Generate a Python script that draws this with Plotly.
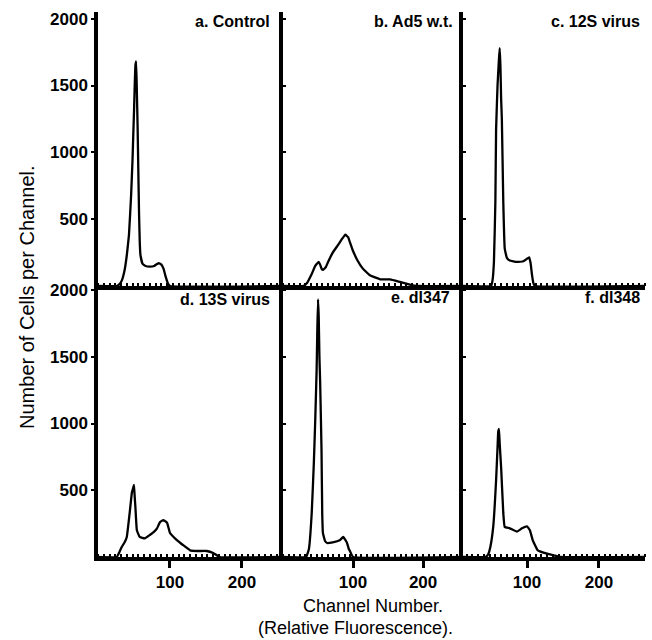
import plotly.graph_objects as go

# ---- data (channel number, cells per channel) ----
ch_a = [0, 26, 30, 33, 37, 40, 43, 46, 48, 49, 50, 51, 52, 53, 54, 55, 56, 57, 58, 59, 62, 66, 72, 78, 82, 85, 88, 91, 94, 97, 100, 257]
cnt_a = [0, 0, 15, 40, 120, 230, 380, 680, 950, 1130, 1300, 1500, 1650, 1680, 1450, 1200, 870, 550, 330, 230, 165, 150, 145, 150, 165, 170, 160, 130, 70, 20, 0, 0]

ch_b = [0, 29, 34, 41, 46, 49, 51, 53, 55, 57, 61, 64, 71, 79, 84, 89, 91, 93, 96, 99, 106, 114, 124, 139, 153, 167, 181, 191, 257]
cnt_b = [0, 0, 20, 90, 150, 170, 180, 160, 130, 120, 140, 175, 250, 310, 350, 385, 375, 365, 320, 275, 195, 130, 80, 50, 50, 30, 10, 0, 0]

ch_c = [11, 50, 52, 54, 56, 57, 59, 61, 62, 63, 64, 65, 67, 69, 72, 76, 86, 95, 99, 103, 105, 107, 109, 111, 264]
cnt_c = [0, 0, 40, 180, 630, 1170, 1500, 1700, 1780, 1650, 1400, 1250, 630, 280, 210, 190, 180, 185, 200, 215, 170, 80, 20, 0, 0]

ch_d = [0, 26, 30, 33, 37, 40, 44, 47, 49, 50, 51, 52, 54, 58, 65, 72, 78, 82, 86, 90, 93, 96, 100, 105, 110, 118, 128, 138, 151, 160, 169, 257]
cnt_d = [0, 0, 40, 75, 110, 150, 330, 480, 520, 540, 450, 370, 200, 150, 140, 165, 190, 215, 260, 275, 270, 255, 180, 150, 125, 90, 50, 45, 45, 30, 0, 0]

ch_e = [0, 33, 37, 41, 44, 46, 48, 49, 50, 51, 52, 53, 55, 56, 57, 60, 63, 71, 81, 86, 91, 94, 96, 100, 257]
cnt_e = [0, 0, 60, 330, 700, 1020, 1400, 1700, 1930, 1800, 1500, 1320, 800, 330, 180, 120, 105, 110, 125, 150, 110, 60, 40, 0, 0]

ch_f = [11, 42, 46, 49, 53, 57, 59, 60, 61, 62, 64, 67, 69, 76, 86, 93, 100, 104, 108, 115, 128, 139, 146, 264]
cnt_f = [0, 0, 20, 75, 225, 575, 820, 940, 960, 850, 670, 330, 225, 215, 190, 215, 230, 200, 125, 50, 25, 10, 0, 0]

panel_labels = ["a. Control", "b. Ad5 w.t.", "c. 12S virus", "d. 13S virus", "e. dl347", "f. dl348"]
y_tickvals = [500, 1000, 1500, 2000]
x_tickvals = [100, 200]
y_title = "Number of Cells per Channel."
x_title_1 = "Channel Number."
x_title_2 = "(Relative Fluorescence)."

series = [(ch_a, cnt_a), (ch_b, cnt_b), (ch_c, cnt_c), (ch_d, cnt_d), (ch_e, cnt_e), (ch_f, cnt_f)]

# ---- layout geometry ----
W, H = 652, 640
L, R, T, B = 98, 7, 10, 83
pw = W - L - R
ph = H - T - B

def px_x(p):
    return (p - L) / pw

def px_y(p):
    return (H - B - p) / ph

xdom = [[0, px_x(283)], [px_x(283), px_x(463)], [px_x(463), 1]]
ysplit = px_y(285)
ydom = [[ysplit, 1], [0, ysplit]]
xranges = [[0, 257], [0, 257], [11, 264]]
yranges = [[0, 2050], [0, 2030]]

FONT = "Liberation Sans, Arial, Helvetica, sans-serif"

fig = go.Figure()
layout = dict(
    width=W, height=H,
    margin=dict(l=L, r=R, t=T, b=B),
    paper_bgcolor="white", plot_bgcolor="white",
    showlegend=False,
    font=dict(family=FONT, color="black"),
)

for i, (xs, ys) in enumerate(series):
    row, col = divmod(i, 3)
    n = i + 1
    xa = "x" if n == 1 else f"x{n}"
    ya = "y" if n == 1 else f"y{n}"
    fig.add_trace(go.Scatter(x=xs, y=ys, mode="lines",
                             line=dict(color="black", width=2.3, shape="spline", smoothing=0.3),
                             xaxis=xa, yaxis=ya, hoverinfo="skip"))
    bottom = row == 1
    xkey = "xaxis" if n == 1 else f"xaxis{n}"
    ykey = "yaxis" if n == 1 else f"yaxis{n}"
    layout[xkey] = dict(
        domain=xdom[col], anchor=ya, range=xranges[col],
        showline=True, linewidth=4, linecolor="black",
        showgrid=False, zeroline=False,
        tickmode="array", tickvals=x_tickvals,
        ticks="outside" if bottom else "", ticklen=7, tickwidth=3, tickcolor="black",
        showticklabels=bottom,
        tickfont=dict(family=FONT, size=17, color="black", weight="bold"),
        minor=dict(ticks="inside", ticklen=3, tickwidth=1.5, tickcolor="black",
                   tickmode="linear", tick0=0, dtick=8, showgrid=False),
    )
    left = col == 0
    layout[ykey] = dict(
        domain=ydom[row], anchor=xa, range=yranges[row],
        showline=True, linewidth=3.5, linecolor="black",
        showgrid=False, zeroline=False,
        tickmode="array", tickvals=y_tickvals,
        ticks="outside" if left else "inside", ticklen=3, tickwidth=1.5, tickcolor="black",
        showticklabels=left,
        tickfont=dict(family=FONT, size=17, color="black", weight="bold"),
    )

label_pos = [(272, 20), (455, 20), (642, 20), (272, 299), (452, 297), (642, 297)]
annotations = []
for txt, (xp, yp) in zip(panel_labels, label_pos):
    annotations.append(dict(text=txt, xref="paper", yref="paper", x=px_x(xp), y=px_y(yp),
                            xanchor="right", yanchor="middle", showarrow=False,
                            font=dict(family=FONT, size=16, color="black", weight="bold")))
annotations.append(dict(text=y_title, xref="paper", yref="paper", x=px_x(27), y=px_y(297),
                        textangle=-90, xanchor="center", yanchor="middle", showarrow=False,
                        font=dict(family=FONT, size=20, color="black")))
annotations.append(dict(text=x_title_1, xref="paper", yref="paper", x=px_x(373), y=px_y(606),
                        xanchor="center", yanchor="middle", showarrow=False,
                        font=dict(family=FONT, size=18, color="black")))
annotations.append(dict(text=x_title_2, xref="paper", yref="paper", x=px_x(355), y=px_y(628),
                        xanchor="center", yanchor="middle", showarrow=False,
                        font=dict(family=FONT, size=18, color="black")))
layout["annotations"] = annotations

fig.update_layout(**layout)
fig.write_html("out.html")
